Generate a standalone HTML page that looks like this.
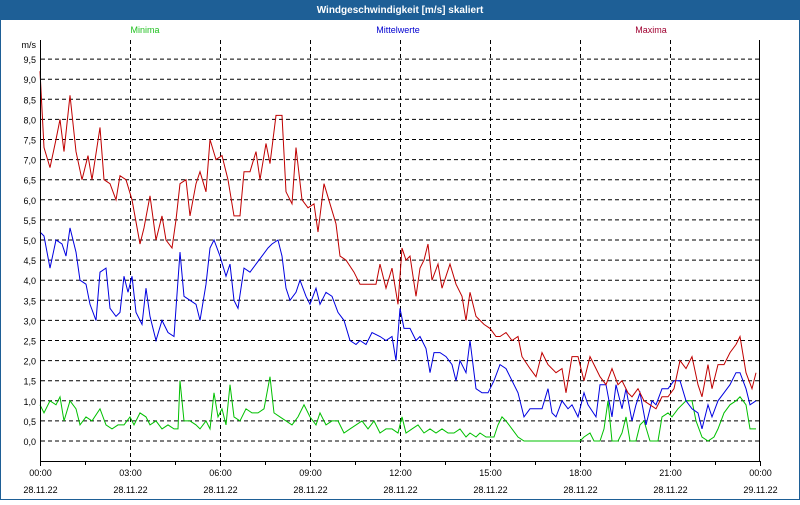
<!DOCTYPE html><html><head><meta charset="utf-8"><style>
body{margin:0;width:800px;height:500px;overflow:hidden;background:#fff;font-family:"Liberation Sans",sans-serif}
</style></head><body>
<svg id="s" width="800" height="500" xmlns="http://www.w3.org/2000/svg" font-family="Liberation Sans, sans-serif" font-size="9">
<rect x="0" y="0" width="800" height="500" fill="#fff"/>
<rect x="0" y="0" width="800" height="20" fill="#1e5f96"/>
<rect x="0.5" y="0.5" width="799" height="499" fill="none" stroke="#1e5f96"/>
<text x="400" y="13" fill="#fff" font-weight="bold" font-size="10" text-anchor="middle">Windgeschwindigkeit [m/s] skaliert</text>
<text x="145" y="33" fill="#20c020" text-anchor="middle">Minima</text>
<text x="398" y="33" fill="#0000d0" text-anchor="middle">Mittelwerte</text>
<text x="651" y="33" fill="#a00030" text-anchor="middle">Maxima</text>
<g id="grid"></g>
<polyline id="g" fill="none" stroke="#00c000" stroke-width="1"/>
<polyline id="b" fill="none" stroke="#0000e0" stroke-width="1"/>
<polyline id="r" fill="none" stroke="#c00000" stroke-width="1"/>
<path d="M40.5 40V461.5H759.5V40" fill="none" stroke="#000"/>
</svg>
<script>
var Y=function(v){return 441-v*40.2};
var g=document.getElementById('grid'),h='';
h+='<text x="36" y="48" text-anchor="end">m/s</text>';
for(var i=0;i<=19;i++){var v=i*0.5,y=Y(v);h+='<line x1="41" x2="759" y1="'+y+'" y2="'+y+'" stroke="#000" stroke-dasharray="4,3"/>';h+='<text x="36" y="'+(y+4)+'" text-anchor="end">'+v.toFixed(1).replace('.',',')+'</text>';}
var d=['28.11.22','28.11.22','28.11.22','28.11.22','28.11.22','28.11.22','28.11.22','28.11.22','29.11.22'];
for(var k=0;k<=8;k++){var x=40.5+k*90;if(k>0&&k<8)h+='<line x1="'+x+'" x2="'+x+'" y1="40" y2="461" stroke="#000" stroke-dasharray="4,3"/>';h+='<line x1="'+x+'" x2="'+x+'" y1="461" y2="466" stroke="#000"/>';if(k<8)h+='<line x1="'+(x+45)+'" x2="'+(x+45)+'" y1="461" y2="465" stroke="#000"/>';var hh=(k*3%24);h+='<text x="'+x+'" y="476" text-anchor="middle">'+(hh<10?'0':'')+hh+':00</text><text x="'+x+'" y="493" text-anchor="middle">'+d[k]+'</text>';}
g.innerHTML=h;
function P(id,a){var s='';for(var i=0;i<a.length;i+=2)s+=a[i]+','+Y(a[i+1]).toFixed(1)+' ';document.getElementById(id).setAttribute('points',s);}
P('r',[40,9.2,44,7.3,50,6.8,56,7.5,60,8.0,64,7.2,70,8.6,76,7.2,82,6.5,88,7.1,92,6.5,100,7.8,104,6.5,110,6.4,116,6.0,120,6.6,126,6.5,132,6.0,140,4.9,144,5.3,150,6.1,156,5.0,162,5.6,166,5.0,172,4.8,176,5.5,180,6.4,186,6.5,190,5.6,196,6.4,200,6.7,206,6.2,210,7.5,216,7.0,222,7.1,228,6.5,234,5.6,240,5.6,244,6.7,250,6.7,256,7.2,260,6.5,266,7.4,270,6.9,276,8.1,282,8.1,286,6.2,292,5.9,296,7.3,302,6.0,308,5.8,314,5.9,318,5.2,324,6.4,330,5.9,336,5.4,340,4.6,346,4.5,354,4.2,360,3.9,370,3.9,376,3.9,380,4.4,386,3.8,392,4.3,398,3.4,402,4.8,406,4.5,410,4.6,416,3.6,420,4.3,424,4.5,428,4.9,432,4.0,438,4.4,442,3.8,446,4.1,450,4.4,456,3.9,462,3.6,466,3.0,470,3.7,476,3.1,484,2.9,490,2.8,496,2.6,500,2.6,506,2.7,512,2.5,518,2.6,522,2.1,530,1.8,536,1.6,542,2.2,548,1.9,556,1.7,562,1.8,566,1.2,572,2.1,578,2.1,584,1.5,590,2.1,596,1.8,600,1.6,606,1.4,612,1.8,618,1.4,622,1.5,628,1.2,632,1.1,638,1.3,644,1.0,650,0.9,656,0.8,662,1.1,668,1.1,674,1.3,680,2.0,686,1.8,692,2.1,698,1.4,702,1.1,708,1.9,712,1.3,718,1.9,724,1.9,730,2.2,736,2.4,740,2.6,746,1.7,752,1.3,756,1.7]);
P('b',[40,5.2,44,5.1,50,4.3,56,5.0,62,4.9,66,4.6,70,5.3,76,4.7,80,4.0,86,3.9,90,3.4,96,3.0,100,4.2,106,4.3,110,3.3,116,3.1,120,3.2,124,4.1,128,3.7,132,4.1,136,3.2,142,2.9,146,3.8,150,3.1,156,2.5,162,3.0,168,2.7,174,2.6,180,4.7,184,3.6,190,3.5,196,3.4,200,3.0,206,3.9,210,4.8,214,5.0,220,4.6,226,4.1,230,4.4,234,3.5,238,3.3,244,4.3,250,4.2,256,4.4,262,4.6,268,4.8,272,4.9,278,5.0,282,4.6,286,3.8,290,3.5,296,3.7,300,4.0,306,3.6,310,3.4,316,3.8,320,3.4,326,3.7,332,3.6,338,3.2,344,3.0,350,2.5,356,2.4,360,2.5,366,2.4,372,2.7,380,2.6,386,2.5,392,2.6,396,2.0,400,3.3,404,2.8,410,2.8,416,2.5,420,2.6,426,2.3,430,1.7,434,2.2,440,2.2,446,2.1,452,1.9,456,1.5,460,2.0,466,1.7,470,2.5,476,1.3,482,1.2,488,1.2,494,1.5,500,1.9,506,1.8,512,1.5,518,1.2,524,0.6,530,0.8,536,0.8,542,0.8,548,1.3,552,0.7,556,0.6,562,1.0,568,0.8,572,0.9,578,0.6,584,1.2,588,0.9,596,0.6,600,1.4,606,1.4,612,0.6,616,1.4,622,0.8,626,1.3,632,0.5,636,0.9,640,1.2,646,0.4,652,1.0,656,0.9,662,1.3,668,1.3,674,1.5,680,1.5,686,1.0,692,0.8,698,0.7,702,0.3,708,0.9,712,0.6,718,1.0,724,1.2,730,1.4,736,1.7,740,1.7,746,1.3,750,0.9,756,1.0]);
P('g',[40,0.9,44,0.7,50,1.0,56,0.9,60,1.1,64,0.5,70,1.0,76,0.8,80,0.4,86,0.6,92,0.5,100,0.8,106,0.4,112,0.3,118,0.4,124,0.4,130,0.6,134,0.4,140,0.7,146,0.6,150,0.4,156,0.5,162,0.3,168,0.4,174,0.3,178,0.3,180,1.5,184,0.5,190,0.5,196,0.4,200,0.3,206,0.5,210,0.3,214,1.2,218,0.6,222,0.8,226,0.4,230,1.4,234,0.6,240,0.5,246,0.8,252,0.7,258,0.7,264,0.8,270,1.6,274,0.7,280,0.6,286,0.5,292,0.4,298,0.6,304,0.9,310,0.6,316,0.4,320,0.7,326,0.4,332,0.5,338,0.5,344,0.2,350,0.3,356,0.4,362,0.5,368,0.3,374,0.5,380,0.2,386,0.3,392,0.3,398,0.2,402,0.6,406,0.2,412,0.3,418,0.4,424,0.2,430,0.3,436,0.2,442,0.3,448,0.2,454,0.2,460,0.3,466,0.1,470,0.2,476,0.1,480,0.2,486,0.1,490,0.1,494,0.1,498,0.4,502,0.6,506,0.5,512,0.3,518,0.1,524,0,580,0,584,0.1,590,0.2,594,0,600,0,604,0.3,608,1.0,612,0,618,0,622,0.2,626,0.6,630,0,636,0,640,0.4,644,0.5,650,0,658,0,662,0.6,668,0.7,672,0.6,678,0.8,686,1.0,692,1.0,696,0.5,702,0.1,708,0.0,714,0.1,718,0.3,724,0.7,730,0.9,736,1.0,740,1.1,746,0.9,750,0.3,756,0.3]);
</script>
</body></html>
